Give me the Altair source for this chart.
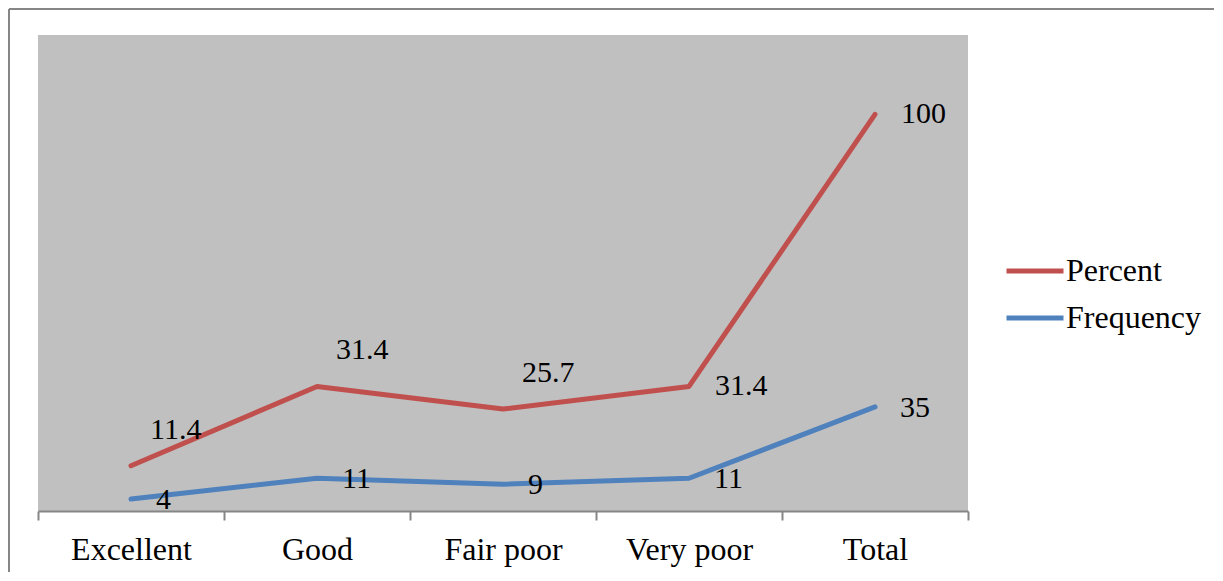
import altair as alt
import pandas as pd

categories = ["Excellent", "Good", "Fair poor", "Very poor", "Total"]
percent = [11.4, 31.4, 25.7, 31.4, 100]
frequency = [4, 11, 9, 11, 35]
series_names = ["Percent", "Frequency"]
series_colors = ["#C0504D", "#4F81BD"]

FONT = "Liberation Serif"
FS = 32
FS_LABEL = 30

pct_df = pd.DataFrame({
    "category": categories,
    "value": percent,
    "series": "Percent",
    "label": [f"{v:g}" for v in percent],
})
freq_df = pd.DataFrame({
    "category": categories,
    "value": frequency,
    "series": "Frequency",
    "label": [f"{v:g}" for v in frequency],
})

x_enc = alt.X(
    "category:N",
    sort=categories,
    bandPosition=0.5,
    scale=alt.Scale(type="band", paddingInner=0, paddingOuter=0),
    axis=alt.Axis(
        title=None, tickBand="extent", grid=False,
        domainColor="#868686", domainWidth=2,
        tickColor="#868686", tickWidth=2, tickSize=9,
        labelFont=FONT, labelFontSize=FS, labelColor="black",
        labelPadding=14, labelAngle=0,
    ),
)

color_enc = alt.Color(
    "series:N",
    scale=alt.Scale(domain=series_names, range=series_colors),
    legend=alt.Legend(
        title=None, orient="none", legendX=966, legendY=205,
        symbolType="stroke", symbolSize=3249, symbolStrokeWidth=5,
        labelFont=FONT, labelFontSize=FS, labelColor="black",
        labelOffset=0, rowPadding=-1, padding=0,
    ),
)

y_pct = alt.Y("value:Q", scale=alt.Scale(domain=[0, 120]), axis=None)
y_freq = alt.Y("value:Q", scale=alt.Scale(domain=[0, 160]), axis=None)

line_style = dict(strokeWidth=5, strokeCap="round", strokeJoin="round")
text_style = dict(font=FONT, fontSize=FS_LABEL, color="black", align="left", baseline="middle")

pct_line = alt.Chart(pct_df).mark_line(**line_style).encode(x=x_enc, y=y_pct, color=color_enc)
pct_text_up = alt.Chart(pct_df).transform_filter(
    alt.FieldOneOfPredicate(field="category", oneOf=categories[:3])
).mark_text(dx=19, dy=-36, **text_style).encode(x=x_enc, y=y_pct, text="label:N")
pct_text_right = alt.Chart(pct_df).transform_filter(
    alt.FieldOneOfPredicate(field="category", oneOf=categories[3:])
).mark_text(dx=26, dy=0, **text_style).encode(x=x_enc, y=y_pct, text="label:N")
pct_layer = alt.layer(pct_line, pct_text_up, pct_text_right)

freq_line = alt.Chart(freq_df).mark_line(**line_style).encode(x=x_enc, y=y_freq, color=color_enc)
freq_text = alt.Chart(freq_df).mark_text(dx=25, dy=1, **text_style).encode(x=x_enc, y=y_freq, text="label:N")
freq_layer = alt.layer(freq_line, freq_text)

one_row = alt.Data(values=[{}])
border_left = alt.Chart(one_row).mark_rule(stroke="#868686", strokeWidth=2).encode(
    x=alt.value(-29), y=alt.value(-26), y2=alt.value(537)
)
border_top = alt.Chart(one_row).mark_rule(stroke="#868686", strokeWidth=2).encode(
    x=alt.value(-29), x2=alt.value(1176), y=alt.value(-26)
)

chart = alt.layer(border_left, border_top, pct_layer, freq_layer).resolve_scale(y="independent").properties(
    width=930, height=476,
    padding=0,
    background="white",
).configure_view(fill="#C0C0C0", stroke=None)

chart.save("out.html", embed_options={"renderer": "svg", "actions": False})
